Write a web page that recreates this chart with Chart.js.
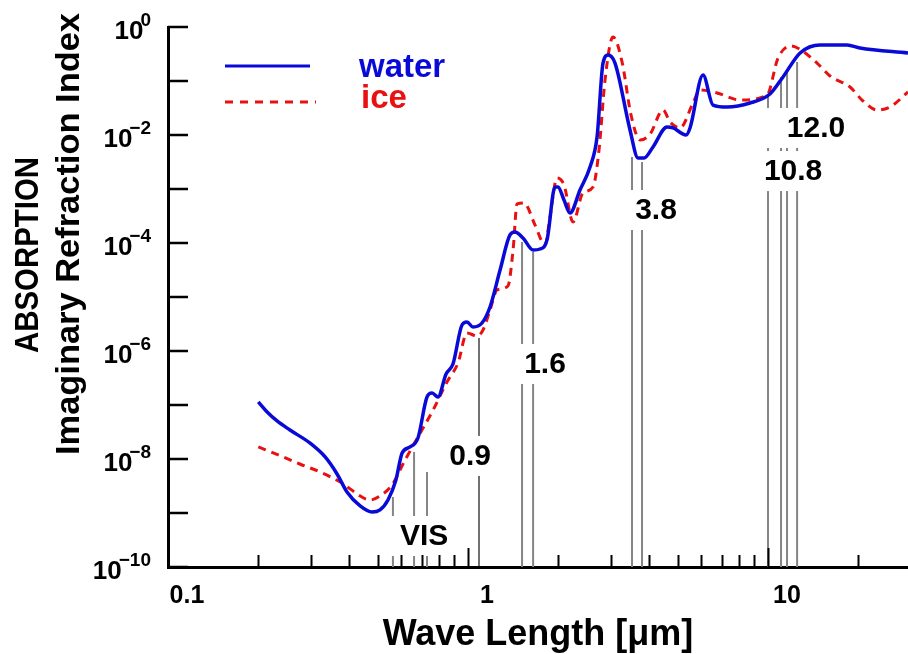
<!DOCTYPE html>
<html>
<head>
<meta charset="utf-8">
<script src="https://cdn.jsdelivr.net/npm/chart.js@4.4.0/dist/chart.umd.min.js"></script>
<style>
  html, body { margin: 0; padding: 0; background: #fff; }
</style>
</head>
<body>
<canvas id="absorptionChart" width="908" height="654"></canvas>
<script>
// wavelength [um] and imaginary refraction index
const waterWave = [0.200, 0.214, 0.231, 0.255, 0.297, 0.334, 0.366, 0.395, 0.437, 0.479,
  0.509, 0.541, 0.575, 0.603, 0.641, 0.681, 0.730, 0.759, 0.794, 0.845,
  0.891, 0.955, 0.992, 1.039, 1.113, 1.184, 1.279, 1.380, 1.434, 1.525,
  1.648, 1.738, 1.834, 1.950, 1.995, 2.089, 2.188, 2.362, 2.551, 2.692,
  2.818, 2.929, 3.090, 3.467, 3.687, 3.861, 4.137, 4.606, 4.823, 5.330,
  5.495, 6.072, 6.556, 7.302, 8.710, 10.15, 11.22, 12.79, 14.91, 18.34,
  20.26, 29.28];
const waterK = [1.14e-7, 7.42e-8, 5.06e-8, 3.44e-8, 1.98e-8, 1.09e-8, 5.28e-9, 2.45e-9, 1.35e-9, 1.04e-9,
  1.14e-9, 1.74e-9, 4.09e-9, 1.29e-8, 1.67e-8, 2.45e-8, 1.41e-7, 1.67e-7, 1.41e-7, 3.75e-7,
  5.74e-7, 3.03e-6, 3.44e-6, 2.78e-6, 3.30e-6, 6.53e-6, 3.16e-5, 1.41e-4, 1.60e-4, 1.24e-4,
  7.42e-5, 7.74e-5, 1.14e-4, 1.09e-3, 1.09e-3, 6.25e-4, 3.59e-4, 9.58e-4, 2.55e-3, 9.18e-3,
  0.215, 0.303, 0.215, 1.24e-2, 3.75e-3, 3.75e-3, 6.00e-3, 1.41e-2, 1.35e-2, 1.00e-2,
  1.35e-2, 0.129, 3.59e-2, 3.30e-2, 3.91e-2, 5.74e-2, 0.119, 0.330, 0.464, 0.464,
  0.408, 0.330];

const iceWave = [0.200, 0.233, 0.275, 0.321, 0.380, 0.437, 0.472, 0.509, 0.558, 0.617,
  0.681, 0.765, 0.851, 0.926, 0.992, 1.072, 1.122, 1.184, 1.250, 1.359,
  1.413, 1.457, 1.537, 1.673, 1.806, 1.876, 1.980, 2.089, 2.239, 2.417,
  2.610, 2.733, 2.862, 3.043, 3.262, 3.494, 3.745, 4.045, 4.467, 4.715,
  5.088, 5.623, 5.934, 6.761, 8.065, 9.924, 10.80, 11.93, 12.88, 14.57,
  16.09, 18.76, 20.73, 23.09, 25.51, 29.28];
const iceK = [1.67e-8, 1.19e-8, 8.08e-9, 5.74e-9, 3.59e-9, 2.07e-9, 1.74e-9, 2.07e-9, 3.30e-9, 9.58e-9,
  2.55e-8, 8.08e-8, 2.67e-7, 6.00e-7, 2.15e-6, 1.90e-6, 2.45e-6, 5.74e-6, 1.35e-5, 1.60e-5,
  7.42e-5, 5.28e-4, 5.51e-4, 2.15e-4, 9.18e-5, 3.03e-4, 1.60e-3, 1.19e-3, 2.45e-4, 8.43e-4,
  1.09e-3, 5.28e-3, 0.104, 0.653, 0.225, 2.35e-2, 8.08e-3, 1.04e-2, 2.90e-2, 1.74e-2,
  1.35e-2, 3.91e-2, 6.81e-2, 6.00e-2, 4.45e-2, 5.51e-2, 0.267, 0.445, 0.375, 0.215,
  0.124, 7.74e-2, 4.26e-2, 2.90e-2, 3.30e-2, 6.25e-2];

// satellite channel edges (gray lines) and where each line meets the curves
const bandWave = [0.562, 0.661, 0.730, 1.514, 1.648, 3.521, 3.802, 10.0, 11.05, 11.57, 12.50];
const bandTop = [1.98e-9, 1.35e-8, 5.74e-9, 1.04e-4, 6.81e-5, 3.91e-3, 3.16e-3, 5.06e-2, 0.119, 0.160, 0.225];
const nirWave = [1.088];
const nirTop = [1.74e-6];

const bandLabels = ['VIS', '0.9', '1.6', '3.8', '12.0', '10.8'];

const xTickValues = [0.1, 0.2, 0.3, 0.4, 0.5, 0.6, 0.7, 0.8, 0.9,
  1, 2, 3, 4, 5, 6, 7, 8, 9, 10, 20];
const xTickLabels = ['0.1', '', '', '', '', '', '', '', '',
  '1', '', '', '', '', '', '', '', '', '10', ''];
const yTickValues = [1, 1e-1, 1e-2, 1e-3, 1e-4, 1e-5, 1e-6, 1e-7, 1e-8, 1e-9, 1e-10];
const yLabelValues = [1, 1e-2, 1e-4, 1e-6, 1e-8, 1e-10];
const yLabelExp = ['0', '\u22122', '\u22124', '\u22126', '\u22128', '\u221210'];

const FONT = '"Liberation Sans", Arial, Helvetica, sans-serif';
const BLUE = '#0a0ad8';
const RED = '#e81010';
Chart.defaults.font.family = FONT;

function verticalLines(waves, tops, bottom) {
  const pts = [];
  waves.forEach((w, i) => {
    pts.push({ x: w, y: bottom }, { x: w, y: tops[i] }, { x: w, y: null });
  });
  return pts;
}

function fitText(ctx, text, cx, cy, size, width, angle) {
  ctx.save();
  ctx.translate(cx, cy);
  ctx.rotate(angle);
  ctx.font = 'bold ' + size + 'px ' + FONT;
  const w = ctx.measureText(text).width;
  ctx.scale(width / w, 1);
  ctx.textAlign = 'center';
  ctx.textBaseline = 'middle';
  ctx.fillText(text, 0, 0);
  ctx.restore();
}

// labels of the channel lines, white box behind breaks the lines
const bandLabelPlugin = {
  id: 'bandLabels',
  afterDatasetsDraw(chart, args, opts) {
    const { ctx, scales: { x, y } } = chart;
    ctx.save();
    ctx.font = 'bold 30px ' + FONT;
    ctx.textAlign = 'center';
    ctx.textBaseline = 'middle';
    opts.spots.forEach((s, i) => {
      const px = x.getPixelForValue(s.wave);
      const py = y.getPixelForValue(s.k);
      const w = ctx.measureText(bandLabels[i]).width;
      ctx.fillStyle = '#fff';
      ctx.fillRect(px - w / 2 - s.padL, py - 20, w + s.padL + 6, 40);
      ctx.fillStyle = '#000';
      ctx.fillText(bandLabels[i], px, py + 1);
    });
    ctx.restore();
  }
};

// tecplot style axes: ticks pointing inwards, superscript labels, legend inside
const axisDecorPlugin = {
  id: 'axisDecor',
  afterDraw(chart) {
    const { ctx, chartArea, scales: { x, y } } = chart;
    ctx.save();
    ctx.strokeStyle = '#000';
    ctx.lineWidth = 2;
    ctx.beginPath();
    xTickValues.forEach((v, i) => {
      const px = Math.round(x.getPixelForValue(v)) + 0.5;
      const len = xTickLabels[i] ? 19 : 12;
      ctx.moveTo(px, chartArea.bottom);
      ctx.lineTo(px, chartArea.bottom - len);
    });
    ctx.stroke();
    ctx.lineWidth = 2.5;
    ctx.beginPath();
    yTickValues.forEach(v => {
      const py = Math.round(y.getPixelForValue(v));
      ctx.moveTo(chartArea.left, py);
      ctx.lineTo(chartArea.left + 20, py);
    });
    ctx.stroke();

    ctx.fillStyle = '#000';
    ctx.textAlign = 'right';
    ctx.textBaseline = 'middle';
    yLabelValues.forEach((v, i) => {
      const py = y.getPixelForValue(v);
      ctx.font = 'bold 19px ' + FONT;
      const sw = ctx.measureText(yLabelExp[i]).width;
      ctx.fillText(yLabelExp[i], 151, py - 6);
      ctx.font = 'bold 26px ' + FONT;
      ctx.fillText('10', 151 - sw + 3, py + 5);
    });

    ctx.fillStyle = '#000';
    fitText(ctx, 'ABSORPTION', 29, 255, 34, 196, -Math.PI / 2);
    fitText(ctx, 'Imaginary Refraction Index', 70, 234, 34, 442, -Math.PI / 2);

    ctx.lineWidth = 3;
    ctx.strokeStyle = BLUE;
    ctx.beginPath();
    ctx.moveTo(225, 66);
    ctx.lineTo(310, 66);
    ctx.stroke();
    ctx.strokeStyle = RED;
    ctx.setLineDash([8, 7]);
    ctx.beginPath();
    ctx.moveTo(225, 102);
    ctx.lineTo(316, 102);
    ctx.stroke();
    ctx.setLineDash([]);
    ctx.textAlign = 'left';
    ctx.textBaseline = 'alphabetic';
    ctx.font = 'bold 33px ' + FONT;
    ctx.fillStyle = BLUE;
    ctx.fillText('water', 359, 77);
    ctx.fillStyle = RED;
    ctx.fillText('ice', 361, 108);
    ctx.restore();
  }
};

new Chart(document.getElementById('absorptionChart'), {
  type: 'line',
  data: {
    datasets: [
      {
        label: 'water',
        data: waterWave.map((w, i) => ({ x: w, y: waterK[i] })),
        borderColor: BLUE,
        borderWidth: 3.5,
        pointRadius: 0,
        cubicInterpolationMode: 'monotone',
        fill: false,
        order: 0
      },
      {
        label: 'ice',
        data: iceWave.map((w, i) => ({ x: w, y: iceK[i] })),
        borderColor: RED,
        borderWidth: 3,
        borderDash: [8, 6],
        pointRadius: 0,
        cubicInterpolationMode: 'monotone',
        fill: false,
        order: 1
      },
      {
        label: 'channels',
        data: verticalLines(bandWave, bandTop, 1e-10),
        borderColor: '#858585',
        borderWidth: 2,
        pointRadius: 0,
        tension: 0,
        spanGaps: false,
        order: 2
      },
      {
        label: 'nir',
        data: verticalLines(nirWave, nirTop, 1e-10),
        borderColor: '#111',
        borderWidth: 1.2,
        pointRadius: 0,
        tension: 0,
        spanGaps: false,
        order: 2
      }
    ]
  },
  options: {
    responsive: false,
    animation: false,
    layout: { padding: { top: 27, right: 0, bottom: 0, left: 0 } },
    plugins: {
      legend: { display: false },
      tooltip: { enabled: false },
      bandLabels: {
        spots: [
          { wave: 0.714, k: 3.75e-10, padL: 14 },
          { wave: 1.016, k: 1.14e-8, padL: 8 },
          { wave: 1.806, k: 5.74e-7, padL: 8 },
          { wave: 4.233, k: 4.08e-4, padL: 8 },
          { wave: 14.45, k: 1.35e-2, padL: 22 },
          { wave: 12.12, k: 2.15e-3, padL: 8 }
        ]
      }
    },
    scales: {
      x: {
        type: 'logarithmic',
        min: 0.1,
        max: 29.28,
        afterBuildTicks: s => { s.ticks = xTickValues.map(v => ({ value: v })); },
        afterFit: s => { s.height = 87; },
        grid: { display: false, drawTicks: false },
        border: { display: true, color: '#000', width: 3 },
        ticks: {
          autoSkip: false,
          maxRotation: 0,
          labelOffset: 19,
          padding: 14,
          color: '#000',
          font: { size: 25, weight: 'bold' },
          callback: (v, i) => xTickLabels[i]
        },
        title: {
          display: true,
          text: 'Wave Length [\u03bcm]',
          color: '#000',
          font: { size: 36, weight: 'bold', lineHeight: 1.05 },
          padding: { top: 0, bottom: 0 }
        }
      },
      y: {
        type: 'logarithmic',
        min: 1e-10,
        max: 1,
        afterBuildTicks: s => { s.ticks = yTickValues.map(v => ({ value: v })); },
        afterFit: s => { s.width = 168; },
        grid: { display: false, drawTicks: false },
        border: { display: true, color: '#000', width: 3 },
        ticks: { display: false }
      }
    }
  },
  plugins: [bandLabelPlugin, axisDecorPlugin]
});
</script>
</body>
</html>
